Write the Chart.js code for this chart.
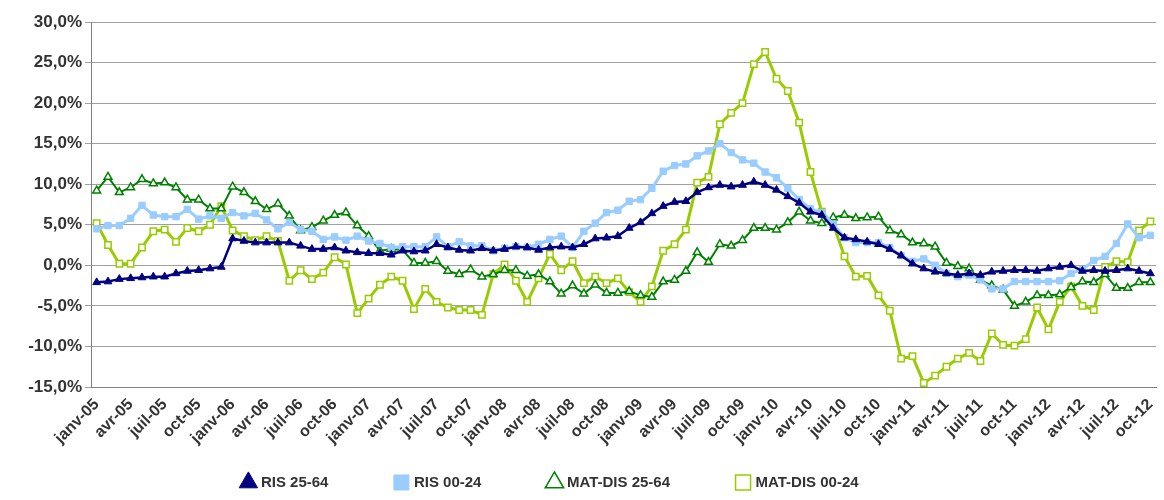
<!DOCTYPE html>
<html>
<head>
<meta charset="utf-8">
<script src="https://cdn.jsdelivr.net/npm/chart.js@4"></script>
<style>
  html, body { margin: 0; padding: 0; background: #fff; }
  #wrap { width: 1164px; height: 500px; }
</style>
</head>
<body>
<div id="wrap"><canvas id="chart"></canvas></div>
<script>
const monthNames = ["janv", "févr", "mars", "avr", "mai", "juin", "juil", "août", "sept", "oct", "nov", "déc"];
const years = ["05", "06", "07", "08", "09", "10", "11", "12"];
const labels = [];
years.forEach((y) => monthNames.forEach((m) => labels.push(m + "-" + y)));
labels.length = 94; // janv-05 .. oct-12

const ris2564 = [
  -2.1, -2.0, -1.7, -1.6, -1.5, -1.4, -1.4, -1.0, -0.7, -0.6, -0.4, -0.2,
  3.3, 3.0, 2.8, 2.8, 2.8, 2.8, 2.4, 2.0, 2.0, 2.2, 1.8, 1.6,
  1.5, 1.5, 1.3, 1.8, 1.7, 1.8, 2.6, 2.2, 1.9, 1.8, 2.1, 1.8,
  2.0, 2.3, 2.2, 1.9, 2.2, 2.3, 2.2, 2.6, 3.3, 3.4, 3.6, 4.6,
  5.3, 6.4, 7.3, 7.8, 7.9, 9.0, 9.6, 9.9, 9.7, 9.9, 10.3, 9.9,
  9.3, 8.5, 7.7, 6.6, 6.2, 4.6, 3.4, 3.2, 2.9, 2.6, 2.0, 1.2,
  0.2, -0.4, -0.8, -1.0, -1.2, -1.0, -1.2, -0.8, -0.7, -0.6, -0.6, -0.7,
  -0.4, -0.2, 0.0, -0.7, -0.6, -0.7, -0.6, -0.4, -0.7, -1.0
];
const ris0024 = [
  4.5, 4.9, 4.9, 5.8, 7.4, 6.2, 6.0, 6.0, 6.9, 5.7, 6.1, 5.8,
  6.5, 6.1, 6.4, 5.6, 4.5, 5.3, 4.4, 4.2, 3.2, 3.5, 3.1, 3.6,
  3.0, 2.7, 2.2, 2.3, 2.3, 2.3, 3.5, 2.3, 2.9, 2.4, 2.4, 1.8,
  2.1, 2.3, 2.2, 2.6, 3.2, 3.6, 2.2, 4.2, 5.2, 6.5, 6.8, 7.9,
  8.1, 9.5, 11.6, 12.3, 12.5, 13.5, 14.1, 15.0, 13.9, 13.0, 12.6, 11.5,
  10.8, 9.5, 8.1, 7.0, 6.5, 5.1, 3.4, 2.8, 2.8, 2.8, 2.2, 1.2,
  0.5, 0.8, 0.0, -1.0, -1.4, -1.2, -1.8, -2.9, -2.9, -2.0, -2.0, -2.0,
  -2.0, -1.9, -1.0, -0.5, 0.6, 1.1, 2.7, 5.1, 3.4, 3.7
];
const matDis2564 = [
  9.2, 10.9, 9.0, 9.6, 10.6, 10.1, 10.2, 9.6, 8.1, 8.1, 7.0, 7.0,
  9.7, 9.0, 7.9, 6.9, 7.6, 6.1, 4.3, 4.7, 5.5, 6.2, 6.5, 4.9,
  3.6, 1.8, 2.0, 1.9, 0.3, 0.3, 0.5, -0.7, -1.1, -0.5, -1.4, -1.1,
  -0.6, -0.6, -1.3, -1.1, -2.0, -3.5, -2.5, -3.5, -2.4, -3.4, -3.4, -3.2,
  -3.7, -3.9, -2.0, -1.8, -0.7, 1.6, 0.4, 2.6, 2.4, 3.1, 4.6, 4.6,
  4.4, 5.3, 6.6, 5.5, 5.2, 5.9, 6.2, 5.8, 5.9, 6.0, 4.3, 3.8,
  2.8, 2.7, 2.3, 0.3, -0.1, -0.4, -1.8, -2.5, -3.0, -5.0, -4.5, -3.7,
  -3.7, -3.6, -2.7, -2.0, -2.1, -1.1, -2.8, -2.8, -2.1, -2.1
];
const matDis0024 = [
  5.2, 2.5, 0.2, 0.2, 2.2, 4.2, 4.4, 2.9, 4.6, 4.2, 5.0, 7.3,
  4.3, 3.6, 3.1, 3.6, 3.0, -1.9, -0.6, -1.7, -0.9, 1.0, 0.1, -5.9,
  -4.1, -2.4, -1.4, -1.9, -5.4, -2.9, -4.5, -5.2, -5.5, -5.5, -6.1, -1.1,
  0.1, -1.9, -4.5, -1.6, 1.4, -0.6, 0.5, -2.2, -1.4, -2.2, -1.6, -3.3,
  -4.5, -2.6, 1.8, 2.6, 4.4, 10.2, 10.9, 17.4, 18.8, 20.0, 24.8, 26.3,
  23.0, 21.5, 17.6, 11.5, 6.6, 5.1, 1.1, -1.4, -1.3, -3.7, -5.6, -11.5,
  -11.2, -14.5, -13.6, -12.5, -11.5, -10.8, -11.8, -8.4, -9.8, -9.9, -9.1, -5.2,
  -7.9, -4.5, -2.6, -5.0, -5.5, -0.2, 0.5, 0.4, 4.3, 5.4
];

const fmt = (v) => v.toFixed(1).replace(".", ",") + "%";
const font = { family: "Arial, 'Liberation Sans', sans-serif", size: 17, weight: "bold" };

new Chart(document.getElementById("chart"), {
  type: "line",
  data: {
    labels,
    datasets: [
      {
        label: "RIS 25-64", data: ris2564,
        borderColor: "#000080", backgroundColor: "#000080", borderWidth: 2.5,
        pointStyle: "triangle", pointRadius: 4.5, pointBorderWidth: 1,
      },
      {
        label: "RIS 00-24", data: ris0024,
        borderColor: "#99CCFF", backgroundColor: "#99CCFF", borderWidth: 3,
        pointStyle: "rect", pointRadius: 4.5, pointBorderWidth: 1,
      },
      {
        label: "MAT-DIS 25-64", data: matDis2564,
        borderColor: "#008000", backgroundColor: "#ffffff", borderWidth: 2,
        pointStyle: "triangle", pointRadius: 4.5, pointBorderWidth: 1.5,
      },
      {
        label: "MAT-DIS 00-24", data: matDis0024,
        borderColor: "#99CC00", backgroundColor: "#ffffff", borderWidth: 3,
        pointStyle: "rect", pointRadius: 4.5, pointBorderWidth: 1.5,
      },
    ],
  },
  options: {
    responsive: true,
    maintainAspectRatio: false,
    animation: false,
    layout: { padding: { top: 22, right: 2, left: 0, bottom: 0 } },
    scales: {
      x: {
        offset: true,
        grid: { display: false },
        border: { color: "#808080" },
        afterFit: (s) => { s.height = 80; },
        ticks: {
          color: "#333",
          font: { ...font, size: 16 },
          autoSkip: false,
          maxRotation: 45,
          minRotation: 45,
          padding: 0,
          callback: (val, i) => (i % 3 === 0 ? labels[i] : null),
        },
      },
      y: {
        min: -15, max: 30,
        afterFit: (s) => { s.width = 91; },
        grid: { color: "#a0a0a0", drawTicks: true, tickLength: 6 },
        border: { color: "#808080" },
        ticks: { stepSize: 5, color: "#333", font, callback: (v) => fmt(v) },
      },
    },
    plugins: {
      legend: {
        position: "bottom",
        labels: {
          color: "#333",
          font: { ...font, size: 15 },
          usePointStyle: true,
          boxWidth: 10,
          padding: 8,
          generateLabels: (chart) =>
            Chart.defaults.plugins.legend.labels.generateLabels(chart).map((l) => {
              l.text = l.text + "\u2003\u2003\u2003\u2003";
              return l;
            }),
        },
      },
      tooltip: { enabled: false },
    },
  },
});
</script>
</body>
</html>
